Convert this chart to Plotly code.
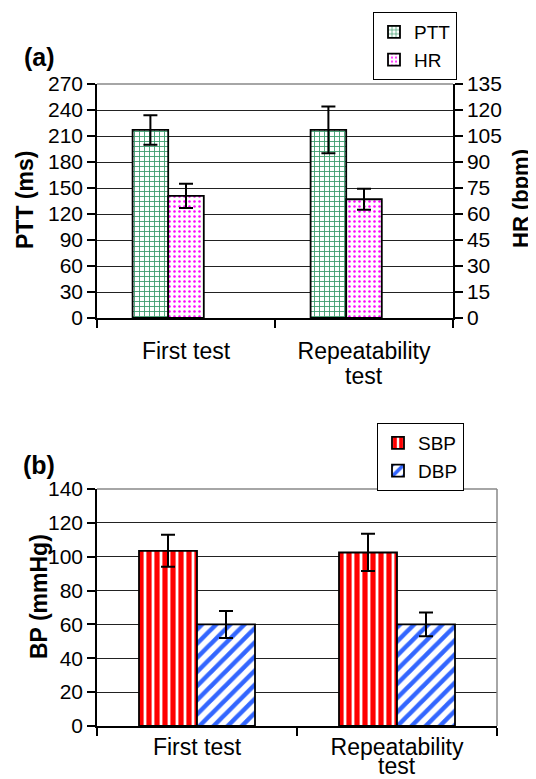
import plotly.graph_objects as go

categories = ["First test", "Repeatability"]
second_line = ["", "test"]
xpos = [0, 1]

ptt_mean = [217, 217]
ptt_err = [17, 27]
hr_mean = [70.5, 68.5]
hr_err = [7, 6]

sbp_mean = [103.5, 102.5]
sbp_err = [9.5, 11]
dbp_mean = [60, 60]
dbp_err = [8, 7]

ptt_ticks = list(range(0, 271, 30))
hr_ticks = list(range(0, 136, 15))
bp_ticks = list(range(0, 141, 20))

FONT = "Liberation Sans, Arial, sans-serif"
# page body has an 8px margin; figure is sized to fit the 536x779 window
OFF = 8
W, H = 536 - OFF, 779 - OFF

def px_x(p):
    return (p - OFF) / W

def px_y(p):
    return 1 - (p - OFF) / H

fig = go.Figure()

err_style = dict(color="black", thickness=2, width=7)
line_style = dict(color="black", width=1.8)

fig.add_trace(go.Bar(
    x=xpos, y=ptt_mean, name="PTT", xaxis="x", yaxis="y",
    width=0.2, offset=-0.3, opacity=1,
    marker=dict(color="white", line=line_style, opacity=1,
                pattern=dict(shape="+", fgcolor="#3a9a6a", bgcolor="white", size=5,
                             solidity=0.32, fgopacity=1)),
    error_y=dict(type="data", array=ptt_err, visible=True, **err_style),
    legend="legend",
))
fig.add_trace(go.Bar(
    x=xpos, y=hr_mean, name="HR", xaxis="x", yaxis="y2",
    width=0.2, offset=-0.1, opacity=1,
    marker=dict(color="white", line=line_style, opacity=1,
                pattern=dict(shape=".", fgcolor="#ff00ff", bgcolor="white", size=5,
                             solidity=0.2, fgopacity=1)),
    error_y=dict(type="data", array=hr_err, visible=True, **err_style),
    legend="legend",
))
fig.add_trace(go.Bar(
    x=xpos, y=sbp_mean, name="SBP", xaxis="x2", yaxis="y3",
    width=0.29, offset=-0.29, opacity=1,
    marker=dict(color="white", line=line_style, opacity=1,
                pattern=dict(shape="|", fgcolor="#ff0000", bgcolor="white", size=8,
                             solidity=0.65, fgopacity=1)),
    error_y=dict(type="data", array=sbp_err, visible=True, **err_style),
    legend="legend2",
))
fig.add_trace(go.Bar(
    x=xpos, y=dbp_mean, name="DBP", xaxis="x2", yaxis="y3",
    width=0.29, offset=0.0, opacity=1,
    marker=dict(color="white", line=line_style, opacity=1,
                pattern=dict(shape="/", fgcolor="#3366ff", bgcolor="white", size=10,
                             solidity=0.45, fgopacity=1)),
    error_y=dict(type="data", array=dbp_err, visible=True, **err_style),
    legend="legend2",
))

tickfont = dict(family=FONT, size=21, color="black")
catfont = dict(family=FONT, size=23, color="black")

ya_dom = [px_y(318), px_y(84)]
yb_dom = [px_y(726), px_y(489)]

def xaxis_style(standoff):
    return dict(
        range=[-0.5, 1.5], tickmode="array", tickvals=xpos, ticktext=categories,
        ticks="", showline=True, linecolor="black", linewidth=1.5, showgrid=False,
        zeroline=False, tickfont=catfont, automargin=False, ticklabelstandoff=standoff,
        minor=dict(tickmode="linear", tick0=-0.5, dtick=1, ticks="outside", ticklen=8,
                   tickcolor="black", tickwidth=1.5, showgrid=False),
    )

ycommon = dict(
    ticks="outside", ticklen=8, tickcolor="black", tickwidth=1.5,
    showline=True, linecolor="black", linewidth=1.5, zeroline=False,
    tickfont=tickfont, automargin=False, gridcolor="#222222", gridwidth=1,
)

legfont = dict(family=FONT, size=19, color="black")

fig.update_layout(
    width=W, height=H, margin=dict(l=0, r=0, t=0, b=0),
    paper_bgcolor="white", plot_bgcolor="white",
    barmode="overlay", font=dict(family=FONT, color="black"),
    xaxis=dict(domain=[px_x(97), px_x(453)], anchor="y", **xaxis_style(12)),
    yaxis=dict(domain=ya_dom, anchor="x", range=[0, 270], tickmode="array",
               tickvals=ptt_ticks, showgrid=True, **ycommon),
    yaxis2=dict(overlaying="y", side="right", anchor="x", range=[0, 135], tickmode="array",
                tickvals=hr_ticks, showgrid=False, **ycommon),
    xaxis2=dict(domain=[px_x(97), px_x(497)], anchor="y3", **xaxis_style(0)),
    yaxis3=dict(domain=yb_dom, anchor="x2", range=[0, 140], tickmode="array",
                tickvals=bp_ticks, showgrid=True, **ycommon),
    legend=dict(x=px_x(373), y=px_y(12), xanchor="left", yanchor="top",
                bordercolor="black", borderwidth=1, bgcolor="white",
                font=legfont, tracegroupgap=0, itemwidth=30),
    legend2=dict(x=px_x(377), y=px_y(423), xanchor="left", yanchor="top",
                 bordercolor="black", borderwidth=1, bgcolor="white",
                 font=legfont, tracegroupgap=0, itemwidth=30),
    showlegend=True,
)

# gray plot-area borders (top / right of panel b, top of panel a)
fig.add_shape(type="line", xref="x domain", yref="y domain", x0=0, x1=1, y0=1, y1=1,
              line=dict(color="#888888", width=1.5), layer="above")
fig.add_shape(type="line", xref="x2 domain", yref="y3 domain", x0=0, x1=1, y0=1, y1=1,
              line=dict(color="#888888", width=1.5), layer="above")
fig.add_shape(type="line", xref="x2 domain", yref="y3 domain", x0=1, x1=1, y0=0, y1=1,
              line=dict(color="#888888", width=1.5), layer="above")

# second line of the category labels
for xref, ypx in (("x", 376), ("x2", 766)):
    for xv, txt in zip(xpos, second_line):
        if txt:
            fig.add_annotation(xref=xref, yref="paper", x=xv, y=px_y(ypx), text=txt,
                               showarrow=False, xanchor="center", yanchor="middle",
                               font=catfont)

bold = dict(family=FONT, size=23, color="black")
annots = [
    dict(text="<b>(a)</b>", x=px_x(39), y=px_y(57), font=dict(family=FONT, size=25, color="black")),
    dict(text="<b>(b)</b>", x=px_x(39), y=px_y(465), font=dict(family=FONT, size=25, color="black")),
    dict(text="<b>PTT (ms)</b>", x=px_x(25), y=px_y(200), textangle=-90, font=bold),
    dict(text="<b>HR (bpm)</b>", x=px_x(520), y=px_y(199), textangle=-90,
         font=dict(family=FONT, size=22, color="black")),
    dict(text="<b>BP (mmHg)</b>", x=px_x(39), y=px_y(597), textangle=-90, font=bold),
]
for a in annots:
    fig.add_annotation(xref="paper", yref="paper", showarrow=False,
                       xanchor="center", yanchor="middle", **a)

fig.write_html("out.html")
